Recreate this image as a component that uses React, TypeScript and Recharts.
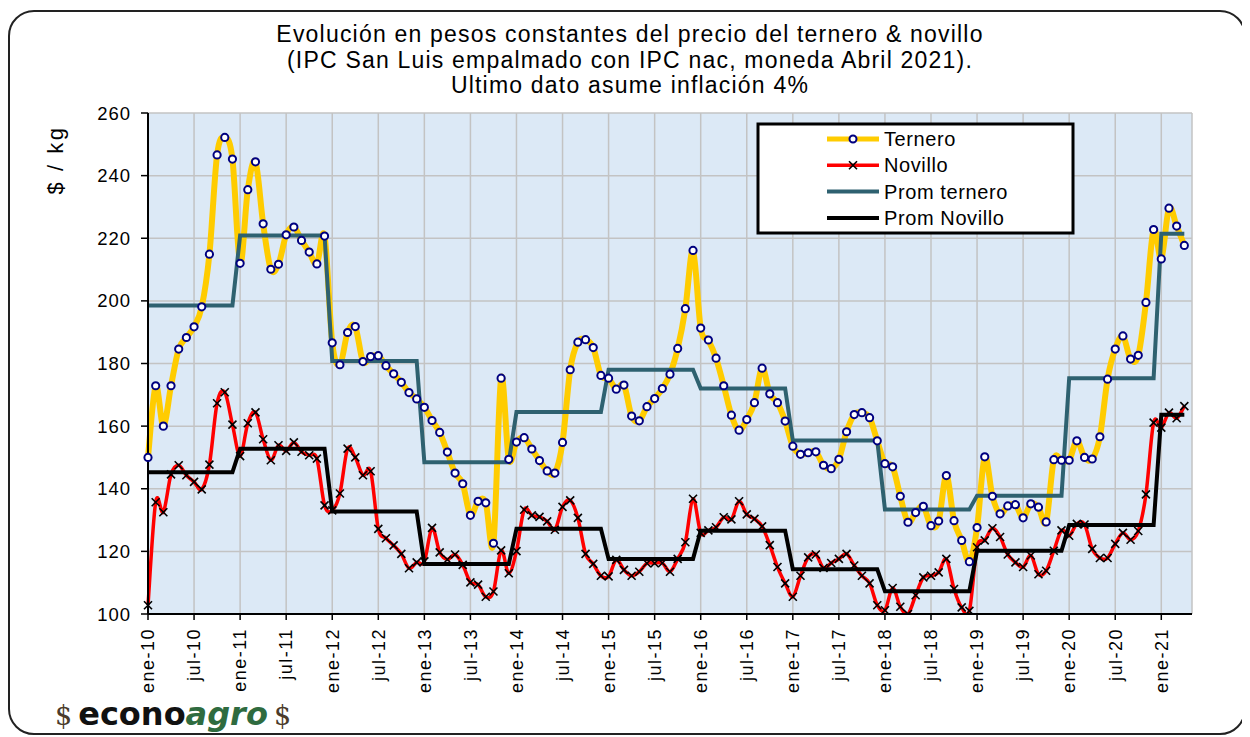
import { CartesianGrid, Line, LineChart, XAxis, YAxis } from 'recharts'

const meses = ['ene', 'feb', 'mar', 'abr', 'may', 'jun', 'jul', 'ago', 'sep', 'oct', 'nov', 'dic']
const anios = ['10', '11', '12', '13', '14', '15', '16', '17', '18', '19', '20', '21']

// precio ternero, $/kg constantes abril 2021 (ene-10 .. abr-21)
const ternero = [
  150.0, 172.9, 160.0, 172.9, 184.6, 188.3, 191.7, 198.1, 214.9, 246.6, 252.2, 245.3,
  212.0, 235.5, 244.4, 224.6, 210.1, 211.7, 221.1, 223.6, 219.3, 215.6, 211.8, 220.7,
  186.6, 179.6, 189.9, 191.8, 180.6, 182.2, 182.5, 179.3, 176.7, 174.0, 170.7, 168.7,
  166.0, 161.8, 158.0, 151.7, 145.0, 141.6, 131.5, 136.0, 135.5, 122.6, 175.3, 149.4,
  154.9, 156.3, 152.7, 149.0, 145.7, 145.0, 154.8, 178.0, 186.8, 187.6, 185.1, 176.2,
  175.3, 171.8, 173.1, 163.2, 161.7, 166.2, 168.8, 172.0, 176.6, 184.8, 197.5, 216.1,
  191.3, 187.5, 181.7, 172.9, 163.5, 158.7, 162.1, 167.5, 178.5, 170.3, 167.5, 161.6,
  153.6, 151.0, 151.5, 151.8, 147.5, 146.4, 149.4, 158.2, 163.7, 164.3, 162.7, 155.3,
  148.0, 147.0, 137.6, 129.3, 132.4, 134.4, 128.2, 129.7, 144.2, 129.8, 123.5, 116.7,
  127.6, 150.2, 137.6, 132.0, 134.5, 134.9, 130.7, 135.2, 134.1, 129.4, 149.3, 149.1,
  149.1, 155.3, 150.0, 149.5, 156.6, 175.0, 184.6, 188.8, 181.4, 182.6, 199.5, 222.8,
  213.4, 229.6, 223.9, 217.7,
]

const novillo = [
  102.8, 135.7, 132.5, 144.6, 147.5, 144.3, 142.2, 139.8, 147.7, 167.3, 170.8, 160.5,
  150.4, 160.9, 164.4, 155.8, 149.1, 153.9, 152.1, 154.8, 151.8, 150.7, 149.6, 134.7,
  133.1, 138.5, 152.8, 150.0, 144.3, 145.6, 127.2, 124.2, 121.9, 119.2, 114.6, 116.5,
  116.8, 127.5, 119.7, 117.4, 119.0, 115.7, 110.1, 109.4, 105.5, 107.2, 120.3, 113.0,
  120.1, 133.3, 131.5, 131.0, 129.6, 126.9, 134.2, 136.3, 130.7, 119.2, 116.0, 112.2,
  112.0, 117.3, 114.1, 112.2, 113.5, 116.2, 116.2, 116.3, 113.5, 117.6, 122.9, 136.8,
  125.9, 126.7, 127.7, 130.9, 130.2, 136.0, 131.8, 130.4, 128.0, 122.0, 115.0, 109.8,
  105.5, 112.2, 118.1, 119.0, 114.7, 116.3, 117.6, 119.2, 115.5, 112.2, 109.8, 102.8,
  101.2, 108.3, 102.3, 100.0, 106.0, 111.7, 112.2, 113.3, 117.6, 108.0, 102.1, 101.0,
  121.3, 123.5, 127.4, 124.6, 119.0, 116.5, 115.0, 118.7, 112.7, 113.8, 120.2, 126.7,
  125.0, 128.8, 128.6, 120.8, 117.9, 117.9, 122.4, 125.9, 123.7, 126.5, 138.2, 161.1,
  159.5, 164.3, 162.5, 166.4,
]

// promedios anuales 2010..2021
const promTernero = [198.5, 220.9, 180.8, 148.5, 164.5, 178.0, 172.0, 155.4, 133.4, 137.8, 175.3, 221.4]
const promNovillo = [145.3, 152.8, 132.7, 116.0, 127.2, 117.6, 126.6, 114.3, 107.3, 120.2, 128.4, 163.6]

const yTicks = [100, 120, 140, 160, 180, 200, 220, 240, 260]

const FONT = '"Liberation Sans", Arial, sans-serif'

// eje con un mes vacío al final (may-21), como en la planilla
const data = Array.from({ length: ternero.length + 1 }, (_, k) => {
  const anio = Math.floor(k / 12)
  const tieneDato = k < ternero.length
  return {
    mes: `${meses[k % 12]}-${anios[anio]}`,
    ternero: tieneDato ? ternero[k] : null,
    novillo: tieneDato ? novillo[k] : null,
    promTernero: tieneDato ? promTernero[anio] : null,
    promNovillo: tieneDato ? promNovillo[anio] : null,
  }
})

// suavizado tipo Excel (Catmull-Rom)
function suavizadoExcel(context: any) {
  let pts: number[][] = []
  return {
    areaStart() {},
    areaEnd() {},
    lineStart() {
      pts = []
    },
    point(x: number, y: number) {
      pts.push([+x, +y])
    },
    lineEnd() {
      if (!pts.length) return
      context.moveTo(pts[0][0], pts[0][1])
      for (let k = 0; k < pts.length - 1; k++) {
        const p0 = pts[k - 1] || pts[k]
        const p1 = pts[k]
        const p2 = pts[k + 1]
        const p3 = pts[k + 2] || p2
        context.bezierCurveTo(
          p1[0] + (p2[0] - p0[0]) / 6,
          p1[1] + (p2[1] - p0[1]) / 6,
          p2[0] - (p3[0] - p1[0]) / 6,
          p2[1] - (p3[1] - p1[1]) / 6,
          p2[0],
          p2[1]
        )
      }
    },
  }
}

const MesTick = ({ x, y, payload }: any) => (
  <text
    transform={`translate(${x},${y}) rotate(-90)`}
    textAnchor="end"
    dy="0.35em"
    fontSize={18}
    letterSpacing={1.5}
    fill="#000"
    fontFamily={FONT}
  >
    {payload.value}
  </text>
)

const Cruz = (props: any) => {
  const { cx, cy, index } = props
  if (cx == null || cy == null) return <g key={`cruz-${index}`} />
  return (
    <path
      key={`cruz-${index}`}
      d={`M${cx - 4},${cy - 4}L${cx + 4},${cy + 4}M${cx - 4},${cy + 4}L${cx + 4},${cy - 4}`}
      stroke="#000"
      strokeWidth={1.6}
    />
  )
}

const leyenda = [
  { nombre: 'Ternero', color: '#FFCC00', ancho: 5, marca: 'circulo' },
  { nombre: 'Novillo', color: '#FF0000', ancho: 3.5, marca: 'cruz' },
  { nombre: 'Prom ternero', color: '#2E6170', ancho: 4, marca: '' },
  { nombre: 'Prom Novillo', color: '#000000', ancho: 4, marca: '' },
]

export default function App() {
  return (
    <div style={{ position: 'relative', width: 1238, height: 729, fontFamily: FONT }}>
      <div
        style={{
          position: 'absolute',
          left: 0,
          top: 2,
          width: 1238,
          height: 725,
          border: '2px solid #222',
          borderRadius: 26,
          boxSizing: 'border-box',
        }}
      />
      <div style={{ position: 'absolute', left: 0, top: 0 }}>
        <LineChart width={1234} height={729} data={data} margin={{ top: 105, right: 50, left: 0, bottom: 43 }}>
          <CartesianGrid stroke="#c3c3c3" strokeWidth={1.5} fill="#dce9f6" fillOpacity={1} />
          <XAxis
            dataKey="mes"
            interval={5}
            height={80}
            tick={<MesTick />}
            tickSize={6}
            tickMargin={8}
            tickLine={{ stroke: '#000', strokeWidth: 1.5 }}
            axisLine={{ stroke: '#000', strokeWidth: 2 }}
          />
          <YAxis
            width={140}
            domain={[100, 260]}
            ticks={yTicks}
            allowDataOverflow
            tickSize={7}
            tickMargin={10}
            tickLine={{ stroke: '#000', strokeWidth: 1.5 }}
            axisLine={{ stroke: '#000', strokeWidth: 2 }}
            tick={{ fontSize: 18.5, fill: '#000', fontFamily: FONT, letterSpacing: 1 }}
          />
          <Line dataKey="ternero" type={suavizadoExcel as any} stroke="#FFCC00" strokeWidth={6} dot={false} activeDot={false} isAnimationActive={false} />
          <Line dataKey="novillo" type={suavizadoExcel as any} stroke="#FF0000" strokeWidth={3.5} dot={false} activeDot={false} isAnimationActive={false} />
          <Line dataKey="promTernero" type="linear" stroke="#2E6170" strokeWidth={4} dot={false} activeDot={false} isAnimationActive={false} />
          <Line dataKey="promNovillo" type="linear" stroke="#000000" strokeWidth={4} dot={false} activeDot={false} isAnimationActive={false} />
          <Line
            dataKey="ternero"
            type="linear"
            stroke="none"
            dot={{ r: 3.6, fill: '#fff', stroke: '#000080', strokeWidth: 2 }}
            activeDot={false}
            isAnimationActive={false}
          />
          <Line dataKey="novillo" type="linear" stroke="none" dot={Cruz} activeDot={false} isAnimationActive={false} />
        </LineChart>
      </div>
      <svg width={1238} height={729} style={{ position: 'absolute', left: 0, top: 0, pointerEvents: 'none' }}>
        <g fontFamily={FONT} fontSize={23} letterSpacing={1.2} fill="#000" textAnchor="middle">
          <text x={622} y={34}>Evolución en pesos constantes del precio del ternero &amp; novillo</text>
          <text x={622} y={60}>(IPC San Luis empalmado con IPC nac, moneda Abril 2021).</text>
          <text x={622} y={85}>Ultimo dato asume inflación 4%</text>
        </g>
        <text
          transform="translate(47,152) rotate(-90)"
          textAnchor="middle"
          dominantBaseline="central"
          fontFamily={FONT}
          fontSize={22}
          letterSpacing={2.5}
        >
          $ / kg
        </text>

        <rect x={750} y={116} width={315} height={109} fill="#fff" stroke="#000" strokeWidth={3} />
        {leyenda.map((item, k) => {
          const cy = 131 + k * 26.3
          return (
            <g key={item.nombre}>
              <line x1={819} x2={871} y1={cy} y2={cy} stroke={item.color} strokeWidth={item.ancho} />
              {item.marca === 'circulo' && <circle cx={845} cy={cy} r={3.5} fill="#fff" stroke="#000080" strokeWidth={2} />}
              {item.marca === 'cruz' && (
                <path d={`M841,${cy - 4}L849,${cy + 4}M841,${cy + 4}L849,${cy - 4}`} stroke="#000" strokeWidth={1.6} />
              )}
              <text x={876} y={cy} dominantBaseline="central" fontFamily={FONT} fontSize={20} letterSpacing={0.6}>
                {item.nombre}
              </text>
            </g>
          )
        })}

        <text x={47} y={717}>
          <tspan fontFamily="DejaVu Serif" fontSize={27} fill="#4b3b2b">$</tspan>
          <tspan dx={6} fontFamily="DejaVu Sans" fontWeight="bold" fontSize={32} fill="#111">econo</tspan>
          <tspan fontFamily="DejaVu Sans" fontWeight="bold" fontStyle="italic" fontSize={32} fill="#2f6b3f">agro</tspan>
          <tspan dx={6} fontFamily="DejaVu Serif" fontSize={27} fill="#4b3b2b">$</tspan>
        </text>
      </svg>
    </div>
  )
}
